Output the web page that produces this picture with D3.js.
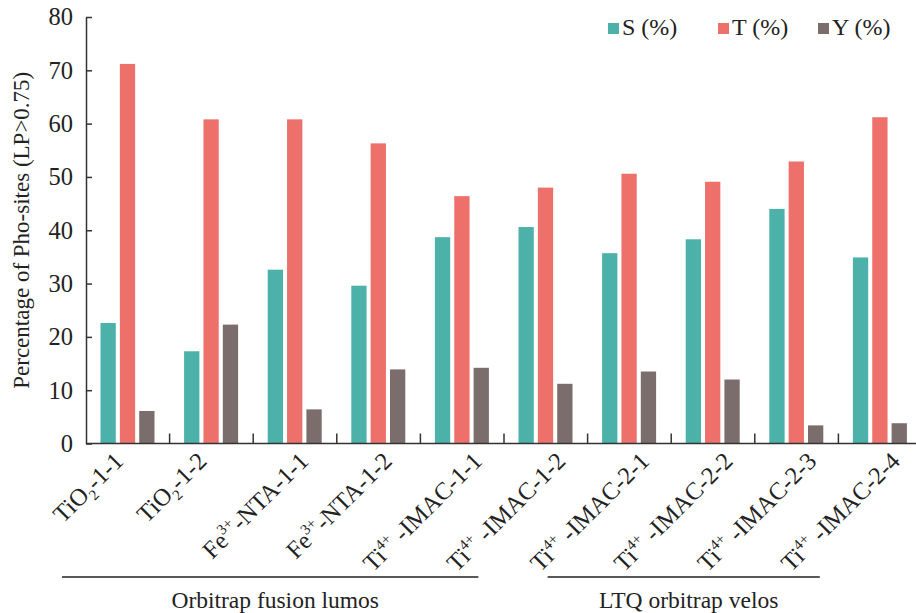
<!DOCTYPE html>
<html>
<head>
<meta charset="utf-8">
<script src="https://cdn.jsdelivr.net/npm/d3@7"></script>
<style>
  html, body { margin: 0; padding: 0; background: #fff; }
  svg { display: block; font-family: "Liberation Serif", "Times New Roman", serif; }
</style>
</head>
<body>
<svg id="chart" width="916" height="613"></svg>
<script>
// Enrichment methods (categories) with label parts: [base, script type, script text, rest]
const categories = ["TiO2-1-1", "TiO2-1-2", "Fe3+-NTA-1-1", "Fe3+-NTA-1-2", "Ti4+-IMAC-1-1",
                    "Ti4+-IMAC-1-2", "Ti4+-IMAC-2-1", "Ti4+-IMAC-2-2", "Ti4+-IMAC-2-3", "Ti4+-IMAC-2-4"];
const labelParts = [
  ["TiO", "sub", "2", "-1-1"],
  ["TiO", "sub", "2", "-1-2"],
  ["Fe", "sup", "3+", "-NTA-1-1"],
  ["Fe", "sup", "3+", "-NTA-1-2"],
  ["Ti", "sup", "4+", " -IMAC-1-1"],
  ["Ti", "sup", "4+", " -IMAC-1-2"],
  ["Ti", "sup", "4+", " -IMAC-2-1"],
  ["Ti", "sup", "4+", " -IMAC-2-2"],
  ["Ti", "sup", "4+", " -IMAC-2-3"],
  ["Ti", "sup", "4+", " -IMAC-2-4"]
];
const seriesNames = ["S (%)", "T (%)", "Y (%)"];
const sValues = [22.6, 17.3, 32.6, 29.6, 38.7, 40.6, 35.7, 38.3, 44.0, 34.9];
const tValues = [71.2, 60.8, 60.8, 56.3, 46.4, 48.0, 50.6, 49.1, 52.9, 61.2];
const yValues = [6.1, 22.3, 6.4, 13.9, 14.2, 11.2, 13.5, 12.0, 3.4, 3.8];
const seriesColors = ["#4BB1A9", "#EE706B", "#7A6D6B"];
const yTicks = [0, 10, 20, 30, 40, 50, 60, 70, 80];
const instrumentGroups = [
  { name: "Orbitrap fusion lumos", from: 0, to: 4 },
  { name: "LTQ orbitrap velos", from: 6, to: 8 }
];

const table = categories.map((c, i) => ({
  cat: c, parts: labelParts[i],
  vals: [sValues[i], tValues[i], yValues[i]]
}));

const svg = d3.select("#chart");
const W = 916, H = 613;
const axisColor = "#333";
const textColor = "#222";

const x = d3.scaleBand().domain(categories).range([86, 922]);
const xInner = d3.scaleBand().domain(d3.range(seriesNames.length))
  .range([14.5, 68.5]).paddingInner(0.21);
const y = d3.scaleLinear().domain([0, 80]).range([443.5, 17]);

// Bars
const groups = svg.append("g").selectAll("g").data(table).join("g")
  .attr("transform", d => `translate(${x(d.cat)},0)`);
groups.selectAll("rect").data(d => d.vals.map((v, k) => ({ v, k }))).join("rect")
  .attr("x", d => xInner(d.k))
  .attr("width", xInner.bandwidth())
  .attr("y", d => y(d.v))
  .attr("height", d => y(0) - y(d.v))
  .attr("fill", d => seriesColors[d.k]);

// Y axis
const yAxis = svg.append("g").attr("transform", "translate(86,0)")
  .call(d3.axisLeft(y).tickValues(yTicks).tickSizeInner(-6).tickSizeOuter(0).tickPadding(13));
yAxis.select(".domain").attr("stroke", axisColor).attr("stroke-width", 1.5);
yAxis.selectAll(".tick line").attr("stroke", axisColor).attr("stroke-width", 1.5);
yAxis.selectAll(".tick text").attr("font-size", 24.5).attr("fill", textColor)
  .attr("font-family", "Liberation Serif");

// X axis baseline and group separator ticks
svg.append("line").attr("x1", 86).attr("x2", W).attr("y1", y(0)).attr("y2", y(0))
  .attr("stroke", axisColor).attr("stroke-width", 1.5);
svg.append("g").selectAll("line").data(categories.slice(1)).join("line")
  .attr("x1", d => x(d)).attr("x2", d => x(d))
  .attr("y1", y(0)).attr("y2", y(0) - 10)
  .attr("stroke", axisColor).attr("stroke-width", 1.5);

// Rotated category labels: each label's rotated box is centred under its group
const lab = svg.append("g").selectAll("text").data(table).join("text")
  .attr("text-anchor", "end")
  .attr("font-size", 24.5)
  .attr("fill", textColor);
lab.each(function (d) {
  const t = d3.select(this);
  const [base, kind, script, rest] = d.parts;
  t.append("tspan").text(base);
  t.append("tspan").attr("font-size", 15)
    .attr("dy", kind === "sub" ? 6 : -10).text(script);
  t.append("tspan").attr("dy", kind === "sub" ? -6 : 10).text(rest);
  const L = this.getComputedTextLength();
  const cx = x(d.cat) + x.bandwidth() / 2;
  t.attr("transform", `translate(${cx - 34 + 0.354 * L},${y(0) + 19}) rotate(-45)`);
});

// Y axis title
svg.append("text")
  .attr("transform", `translate(29,${(y(0) + y(80)) / 2}) rotate(-90)`)
  .attr("text-anchor", "middle")
  .attr("font-size", 23).attr("fill", textColor)
  .text("Percentage of Pho-sites (LP>0.75)");

// Legend
const legendX = [608, 718, 818];
const legend = svg.append("g").selectAll("g").data(seriesNames).join("g")
  .attr("transform", (d, i) => `translate(${legendX[i]},0)`);
legend.append("rect").attr("x", 0).attr("y", 23).attr("width", 11).attr("height", 11)
  .attr("fill", (d, i) => seriesColors[i]);
legend.append("text").attr("x", 14).attr("y", 35).attr("font-size", 24).attr("fill", textColor)
  .text(d => d);

// Instrument brackets below the labels
const bracket = [
  { x1: x(categories[0]) - 24, x2: x(categories[4]) + 58 },
  { x1: x(categories[6]) - 40, x2: x(categories[8]) + 65 }
];
const inst = svg.append("g").selectAll("g").data(instrumentGroups).join("g");
inst.append("line")
  .attr("x1", (d, i) => bracket[i].x1)
  .attr("x2", (d, i) => bracket[i].x2)
  .attr("y1", 577).attr("y2", 577)
  .attr("stroke", textColor).attr("stroke-width", 1.3);
inst.append("text")
  .attr("x", (d, i) => (bracket[i].x1 + bracket[i].x2) / 2 + 5)
  .attr("y", 608).attr("text-anchor", "middle")
  .attr("font-size", 23.5).attr("fill", textColor)
  .text(d => d.name);
</script>
</body>
</html>
